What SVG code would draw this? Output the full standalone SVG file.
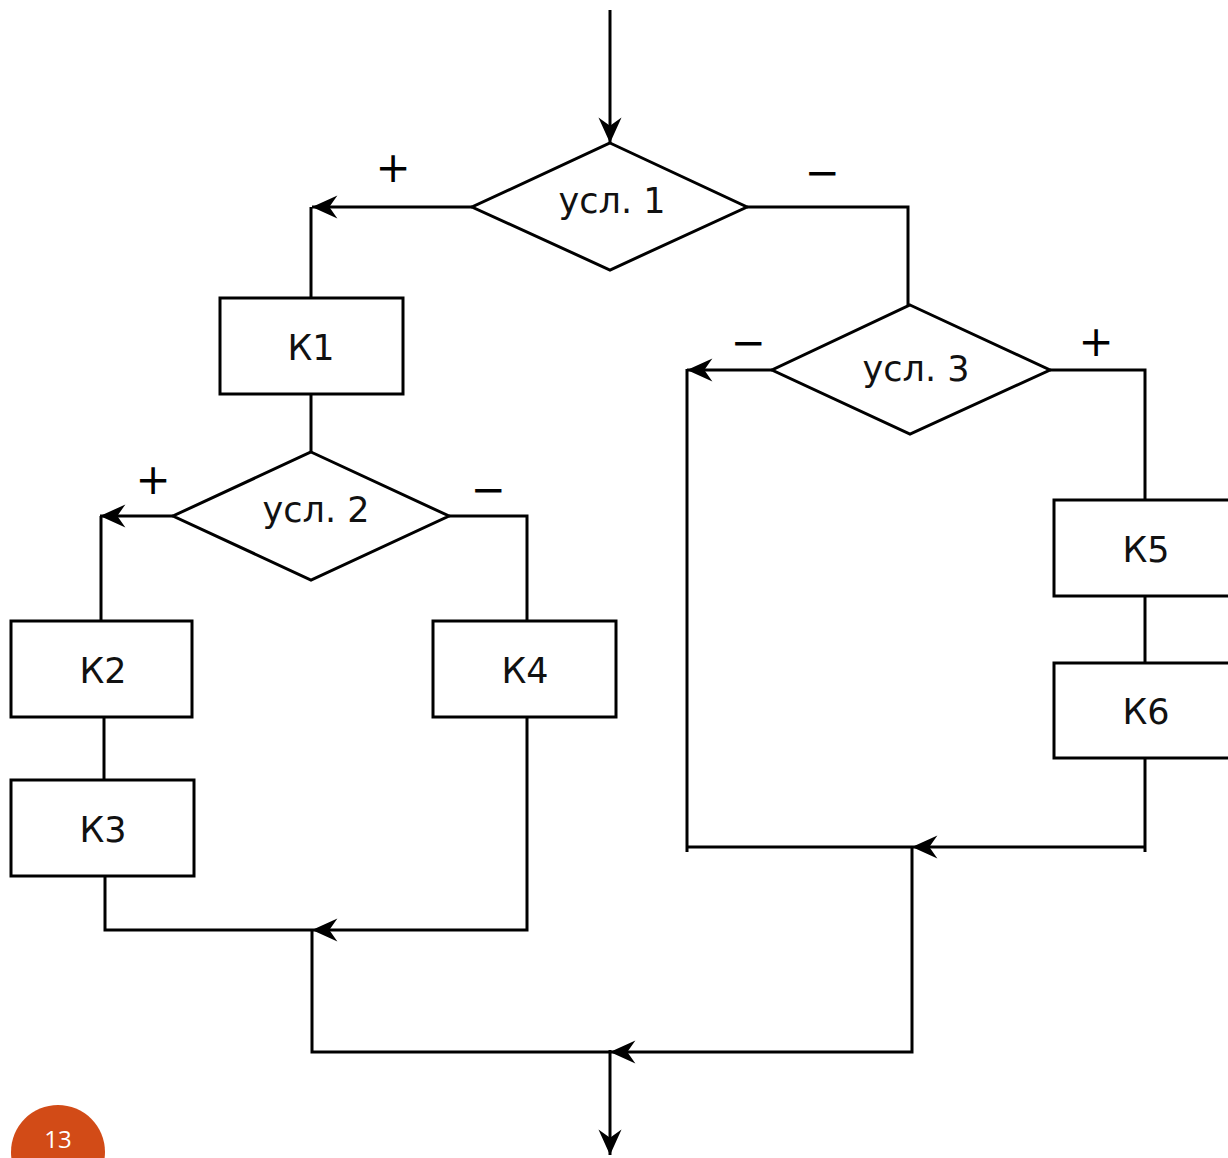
<svg xmlns="http://www.w3.org/2000/svg" width="1228" height="1158" viewBox="0 0 1228 1158">
<style>
.shape{fill:#fff;stroke:#000;stroke-width:3}
.ln{fill:none;stroke:#000;stroke-width:3}
.t{font-family:"DejaVu Sans",Verdana,sans-serif;font-size:35px;fill:#111;text-anchor:middle}
.s{font-family:"DejaVu Sans",sans-serif;font-size:42px;fill:#000;text-anchor:middle}
</style>
<defs>
<marker id="ah" markerUnits="userSpaceOnUse" markerWidth="30" markerHeight="30" viewBox="-24 -12 26 24" refX="0" refY="0" orient="auto">
<path d="M0,0 L-22,-10 L-15,0 L-22,10 Z" fill="#000"/>
</marker>
</defs>
<rect width="1228" height="1158" fill="#fff"/>
<g id="connectors">
<path class="ln" d="M610,10 V143" marker-end="url(#ah)"/>
<path class="ln" d="M472,207 H312" marker-end="url(#ah)"/>
<path class="ln" d="M311,207 V298"/>
<path class="ln" d="M311,394 V452"/>
<path class="ln" d="M173,516 H100" marker-end="url(#ah)"/>
<path class="ln" d="M101,516 V621"/>
<path class="ln" d="M104,717 V780"/>
<path class="ln" d="M105,876 V930 H312"/>
<path class="ln" d="M449,516 H527 V621"/>
<path class="ln" d="M527,717 V930 H312" marker-end="url(#ah)"/>
<path class="ln" d="M312,930 V1052 H610"/>
<path class="ln" d="M747,207 H908 V305"/>
<path class="ln" d="M772,370 H687" marker-end="url(#ah)"/>
<path class="ln" d="M687,369 V852"/>
<path class="ln" d="M687,847 H912"/>
<path class="ln" d="M1050,370 H1145 V500"/>
<path class="ln" d="M1145,596 V663"/>
<path class="ln" d="M1145,758 V852"/>
<path class="ln" d="M1145,847 H912" marker-end="url(#ah)"/>
<path class="ln" d="M912,847 V1052 H610" marker-end="url(#ah)"/>
<path class="ln" d="M610,1050 V1155" marker-end="url(#ah)"/>
</g>
<g id="labels">
<text class="s" x="393" y="182">+</text>
<text class="s" x="822" y="187">−</text>
<text class="s" x="748" y="357">−</text>
<text class="s" x="1096" y="356">+</text>
<text class="s" x="153" y="494">+</text>
<text class="s" x="488" y="504">−</text>
</g>
<g id="cond1"><polygon class="shape" points="610,143 747,207 610,270 472,207"/><text class="t" x="612" y="213">усл. 1</text></g>
<g id="cond3"><polygon class="shape" points="910,305 1050,370 910,434 772,370"/><text class="t" x="916" y="381">усл. 3</text></g>
<g id="k1"><rect class="shape" x="220" y="298" width="183" height="96"/><text class="t" x="311" y="360">К1</text></g>
<g id="cond2"><polygon class="shape" points="311,452 449,516 311,580 173,516"/><text class="t" x="316" y="522">усл. 2</text></g>
<g id="k2"><rect class="shape" x="11" y="621" width="181" height="96"/><text class="t" x="103" y="683">К2</text></g>
<g id="k3"><rect class="shape" x="11" y="780" width="183" height="96"/><text class="t" x="103" y="842">К3</text></g>
<g id="k4"><rect class="shape" x="433" y="621" width="183" height="96"/><text class="t" x="525" y="683">К4</text></g>
<g id="k5"><rect class="shape" x="1054" y="500" width="190" height="96"/><text class="t" x="1146" y="562">К5</text></g>
<g id="k6"><rect class="shape" x="1054" y="663" width="190" height="95"/><text class="t" x="1146" y="724">К6</text></g>
<g id="page"><circle cx="58" cy="1152" r="47" fill="#D24B17"/><text x="58" y="1148" font-family="'Open Sans',sans-serif" font-size="24" fill="#fff" text-anchor="middle">13</text></g>
</svg>
